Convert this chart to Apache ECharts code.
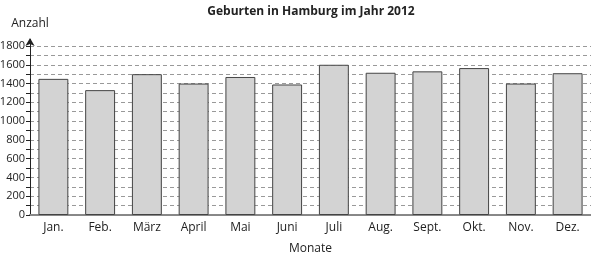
<!DOCTYPE html>
<html><head><meta charset="utf-8">
<script src="https://cdn.jsdelivr.net/npm/echarts@6/dist/echarts.min.js"></script>
<style>html,body{margin:0;padding:0;background:#fff}#c{width:591px;height:256px}</style>
</head><body><div id="c"></div>
<script>
const months = ['Jan.','Feb.','März','April','Mai','Juni','Juli','Aug.','Sept.','Okt.','Nov.','Dez.'];
const births = [1450,1330,1500,1400,1470,1390,1600,1515,1530,1565,1400,1510];
const yTicks = [0,200,400,600,800,1000,1200,1400,1600,1800];
const titleText = 'Geburten in Hamburg im Jahr 2012';
const yName = 'Anzahl';
const xName = 'Monate';

const font = '"Open Sans", "Liberation Sans", sans-serif';
const arrowExt = 7;
const chart = echarts.init(document.getElementById('c'), null, {renderer:'canvas'});
chart.setOption({
  animation:false,
  backgroundColor:'#fff',
  title:{text:titleText,left:306,top:1,textAlign:'center',
    textStyle:{fontFamily:font,fontSize:12,fontWeight:'bold',color:'#222'}},
  grid:{left:30,right:0,top:46,bottom:41,containLabel:false,outerBoundsMode:'none'},
  xAxis:{type:'category',data:months,
    name:xName,nameLocation:'middle',nameGap:28,
    nameTextStyle:{fontFamily:font,fontSize:12,color:'#222'},
    axisLine:{lineStyle:{color:'#888',width:2}},
    axisTick:{show:false},
    axisLabel:{fontFamily:font,fontSize:12,color:'#222',margin:7}},
  yAxis:{type:'value',min:yTicks[0],max:yTicks[yTicks.length-1],interval:yTicks[1]-yTicks[0],
    name:yName,nameLocation:'end',nameGap:16,
    nameTextStyle:{fontFamily:font,fontSize:12,color:'#222',align:'center',padding:[0,0,0,0]},
    axisLine:{show:true,lineStyle:{color:'#222',width:1},symbol:['none','arrow'],symbolSize:[7,8],symbolOffset:[0,arrowExt+1]},
    axisTick:{show:true,length:4,lineStyle:{color:'#222'}},
    minorTick:{show:true,splitNumber:2,length:4,lineStyle:{color:'#222'}},
    axisLabel:{fontFamily:font,fontSize:11,color:'#222',margin:5,formatter:v=>String(v)},
    splitLine:{show:true,lineStyle:{color:'#999',type:[4,3],width:1}},
    minorSplitLine:{show:true,lineStyle:{color:'#999',type:[4,3],width:1}}},
  series:[{type:'bar',data:births,barCategoryGap:'36%',
    itemStyle:{color:'#d3d3d3',borderColor:'#444',borderWidth:1}}]
});
// extend the y axis line up to the arrow
const topPt = chart.convertToPixel({xAxisIndex:0,yAxisIndex:0},[0,yTicks[yTicks.length-1]]);
const axisX = chart.getModel().getComponent('grid',0).coordinateSystem.getRect().x;
chart.setOption({graphic:[{type:'line',shape:{x1:axisX+0.5,y1:topPt[1]+0.5,x2:axisX+0.5,y2:topPt[1]-arrowExt},
  style:{stroke:'#222',lineWidth:1},silent:true}]});
</script></body></html>
